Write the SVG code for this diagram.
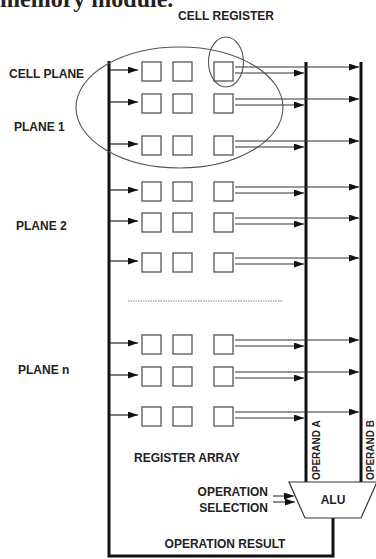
<svg xmlns="http://www.w3.org/2000/svg" width="376" height="559" viewBox="0 0 376 559">
<style>
.lbl{font-family:"Liberation Sans",Arial,sans-serif;font-weight:bold;font-size:12px;fill:#222}
.op{font-family:"Liberation Sans",Arial,sans-serif;font-weight:bold;font-size:10px;fill:#222}
.bus{stroke:#111;stroke-width:3;fill:none}
.sq{fill:#fff;stroke:#555;stroke-width:1.3}
.in{stroke:#222;stroke-width:1.2;fill:none;marker-end:url(#ah)}
.out{stroke:#333;stroke-width:1.1;fill:none;marker-end:url(#ah)}
.ell{fill:none;stroke:#555;stroke-width:1.1}
</style>
<defs>
<marker id="ah" markerUnits="userSpaceOnUse" markerWidth="10" markerHeight="7" refX="10" refY="3.5" orient="auto">
<path d="M0,0 L10,3.5 L0,7 z" fill="#111"/>
</marker>
</defs>
<rect width="376" height="559" fill="#fff"/>
<text x="0" y="7" font-family="Liberation Serif,serif" font-weight="bold" font-size="24" fill="#222">memory module.</text>

<g id="buses">
<path class="bus" d="M109,61 V556 H333 V518"/>
<line class="bus" x1="306" y1="62" x2="306" y2="482"/>
<line class="bus" x1="361" y1="62" x2="361" y2="482"/>
</g>

<g id="cells">
<g id="p1r1"><rect class="sq" x="142" y="62" width="19" height="19"/><rect class="sq" x="173" y="62" width="19" height="19"/><rect class="sq" x="214" y="62" width="19" height="19"/></g>
<g id="p1r2"><rect class="sq" x="142" y="94" width="19" height="19"/><rect class="sq" x="173" y="94" width="19" height="19"/><rect class="sq" x="214" y="94" width="19" height="19"/></g>
<g id="p1r3"><rect class="sq" x="142" y="136" width="19" height="19"/><rect class="sq" x="173" y="136" width="19" height="19"/><rect class="sq" x="214" y="136" width="19" height="19"/></g>
<g id="p2r1"><rect class="sq" x="142" y="182" width="19" height="19"/><rect class="sq" x="173" y="182" width="19" height="19"/><rect class="sq" x="214" y="182" width="19" height="19"/></g>
<g id="p2r2"><rect class="sq" x="142" y="213" width="19" height="19"/><rect class="sq" x="173" y="213" width="19" height="19"/><rect class="sq" x="214" y="213" width="19" height="19"/></g>
<g id="p2r3"><rect class="sq" x="142" y="253" width="19" height="19"/><rect class="sq" x="173" y="253" width="19" height="19"/><rect class="sq" x="214" y="253" width="19" height="19"/></g>
<g id="pnr1"><rect class="sq" x="142" y="335" width="19" height="19"/><rect class="sq" x="173" y="335" width="19" height="19"/><rect class="sq" x="214" y="335" width="19" height="19"/></g>
<g id="pnr2"><rect class="sq" x="142" y="367" width="19" height="19"/><rect class="sq" x="173" y="367" width="19" height="19"/><rect class="sq" x="214" y="367" width="19" height="19"/></g>
<g id="pnr3"><rect class="sq" x="142" y="407" width="19" height="19"/><rect class="sq" x="173" y="407" width="19" height="19"/><rect class="sq" x="214" y="407" width="19" height="19"/></g>
</g>

<g id="connectors">
<line class="in" x1="110" y1="70" x2="138" y2="70"/>
<line class="in" x1="110" y1="102" x2="138" y2="102"/>
<line class="in" x1="110" y1="144" x2="138" y2="144"/>
<line class="in" x1="110" y1="190" x2="138" y2="190"/>
<line class="in" x1="110" y1="221" x2="138" y2="221"/>
<line class="in" x1="110" y1="261" x2="138" y2="261"/>
<line class="in" x1="110" y1="343" x2="138" y2="343"/>
<line class="in" x1="110" y1="375" x2="138" y2="375"/>
<line class="in" x1="110" y1="415" x2="138" y2="415"/>

<line class="out" x1="235" y1="67" x2="359" y2="67"/><line class="out" x1="235" y1="73" x2="304" y2="73"/>
<line class="out" x1="235" y1="99" x2="359" y2="99"/><line class="out" x1="235" y1="105" x2="304" y2="105"/>
<line class="out" x1="235" y1="141" x2="359" y2="141"/><line class="out" x1="235" y1="147" x2="304" y2="147"/>
<line class="out" x1="235" y1="187" x2="359" y2="187"/><line class="out" x1="235" y1="193" x2="304" y2="193"/>
<line class="out" x1="235" y1="218" x2="359" y2="218"/><line class="out" x1="235" y1="224" x2="304" y2="224"/>
<line class="out" x1="235" y1="258" x2="359" y2="258"/><line class="out" x1="235" y1="264" x2="304" y2="264"/>
<line class="out" x1="235" y1="340" x2="359" y2="340"/><line class="out" x1="235" y1="346" x2="304" y2="346"/>
<line class="out" x1="235" y1="372" x2="359" y2="372"/><line class="out" x1="235" y1="378" x2="304" y2="378"/>
<line class="out" x1="235" y1="412" x2="359" y2="412"/><line class="out" x1="235" y1="418" x2="304" y2="418"/>

<line class="out" x1="273" y1="496" x2="294" y2="496"/>
<line class="out" x1="273" y1="502" x2="295" y2="502"/>
</g>

<line x1="128" y1="301" x2="283" y2="301" stroke="#888" stroke-width="1" stroke-dasharray="1.5,1"/>

<g id="groupings">
<ellipse class="ell" cx="179.5" cy="107.5" rx="103.5" ry="60.5"/>
<ellipse class="ell" cx="226" cy="62" rx="17.5" ry="25"/>
</g>

<g id="alu">
<path d="M289,482 H377 L361,518 H305 Z" fill="#fff" stroke="#333" stroke-width="1.2"/>
<text class="lbl" x="333" y="504" text-anchor="middle">ALU</text>
</g>

<g id="labels">
<text class="lbl" x="226" y="20" text-anchor="middle">CELL REGISTER</text>
<text class="lbl" x="9" y="78">CELL PLANE</text>
<text class="lbl" x="14" y="131">PLANE 1</text>
<text class="lbl" x="16" y="230">PLANE 2</text>
<text class="lbl" x="18" y="374">PLANE n</text>
<text class="lbl" x="134" y="462">REGISTER ARRAY</text>
<text class="lbl" x="268" y="496" text-anchor="end">OPERATION</text>
<text class="lbl" x="268" y="512" text-anchor="end">SELECTION</text>
<text class="lbl" x="225" y="548" text-anchor="middle">OPERATION RESULT</text>
<text class="op" transform="translate(320,480) rotate(-90)">OPERAND A</text>
<text class="op" transform="translate(374,480) rotate(-90)">OPERAND B</text>
</g>
</svg>
